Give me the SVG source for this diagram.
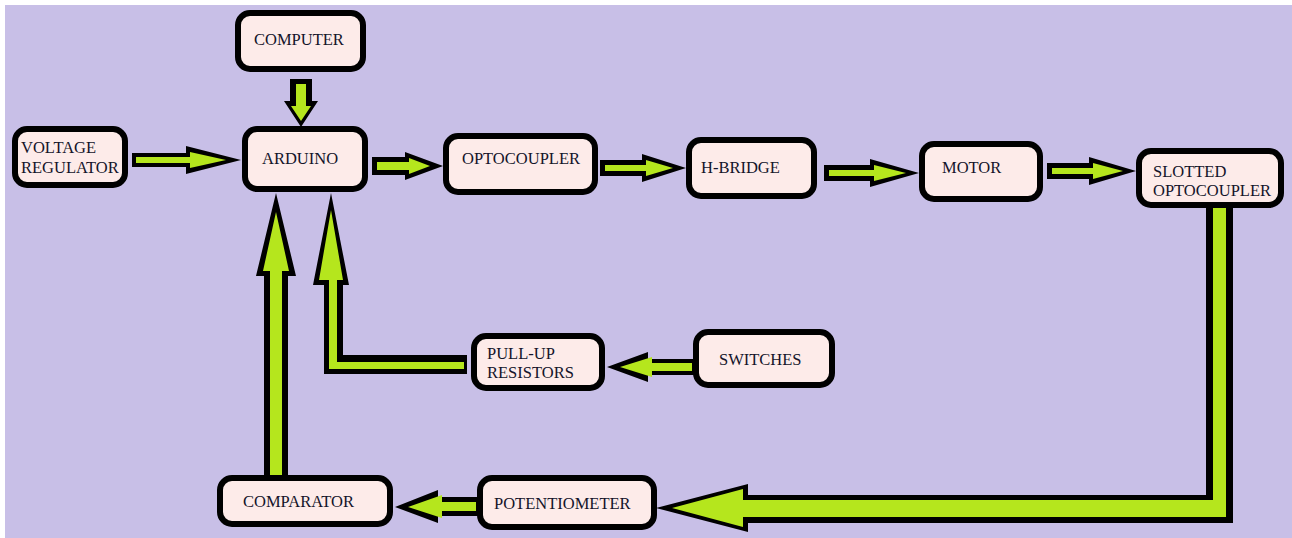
<svg xmlns="http://www.w3.org/2000/svg" width="1292" height="538" viewBox="0 0 1292 538">
<style>
.bg{fill:#C8BFE7}
.box{fill:#FDEBE9;stroke:#000;stroke-width:6}
.ob{fill:#000}
.ig{fill:#B5E61D}
text{font-family:"Liberation Serif","Times New Roman",serif;font-size:16.5px;fill:#14142a}
</style>
<rect width="1292" height="538" fill="#fff"/>
<rect class="bg" x="5" y="5" width="1287" height="533"/>
<g id="connectors">
  <g id="vr-ard"><polygon class="ob" points="132,153 186,153 186,146 241,160 186,174 186,167 132,167"/><polygon class="ig" points="136,157 190,157 190,152 226,160 190,168 190,163 136,163"/></g>
  <g id="ard-opto"><polygon class="ob" points="372,157 405,157 405,152 443,166 405,180 405,175 372,175"/><polygon class="ig" points="377,162 409,162 409,158 430,166 409,174 409,170 377,170"/></g>
  <g id="opto-h"><polygon class="ob" points="600,160 642,160 642,154 686,168 642,182 642,176 600,176"/><polygon class="ig" points="605,165 646,165 646,160 673,168 646,176 646,171 605,171"/></g>
  <g id="h-motor"><polygon class="ob" points="824,165 870,165 870,159 919,173 870,187 870,181 824,181"/><polygon class="ig" points="829,170 874,170 874,165 906,173 874,181 874,176 829,176"/></g>
  <g id="motor-slot"><polygon class="ob" points="1047,163 1089,163 1089,157 1136,171 1089,185 1089,179 1047,179"/><polygon class="ig" points="1052,168 1093,168 1093,163 1123,171 1093,179 1093,174 1052,174"/></g>
  <g id="comp-ard"><polygon class="ob" points="290,79 312,79 312,101 318,101 301,127 284,101 290,101"/><polygon class="ig" points="296,84 306,84 306,106 311,106 301,121 291,106 296,106"/></g>
  <g id="cmp-ard"><polygon class="ob" points="264,477 288,477 288,276 296,276 276,193 256,276 264,276"/><polygon class="ig" points="270,477 282,477 282,271 289,271 276,212 263,271 270,271"/></g>
  <g id="pull-ard"><polygon class="ob" points="331,193 349,285 343,285 343,355 467,355 467,374 324,374 324,285 313,285"/><polygon class="ig" points="331,210 343,280 337,280 337,362 464,362 464,369 329,369 329,280 319,280"/></g>
  <g id="sw-pull"><polygon class="ob" points="607,367 648,352 648,359 694,359 694,375 648,375 648,382"/><polygon class="ig" points="620,367 652,357 652,363 692,363 692,371 652,371 652,377"/></g>
  <g id="pot-cmp"><polygon class="ob" points="395,507 438,490 438,497 478,497 478,516 438,516 438,523"/><polygon class="ig" points="408,507 442,495 442,502 476,502 476,511 442,511 442,518"/></g>
  <g id="slot-pot"><polygon class="ob" points="656,508 748,484 748,495 1206,495 1206,206 1233,206 1233,523 748,523 748,532"/><polygon class="ig" points="672,508 743,489 743,500 1213,500 1213,206 1226,206 1226,517 743,517 743,527"/></g>
</g>
<g id="computer"><rect class="box" x="238" y="13" width="125" height="56" rx="12"/><text x="254" y="45">COMPUTER</text></g>
<g id="voltage-regulator"><rect class="box" x="15" y="129" width="110" height="56" rx="12"/><text x="21" y="153">VOLTAGE</text><text x="21" y="173">REGULATOR</text></g>
<g id="arduino"><rect class="box" x="245" y="129" width="120" height="60" rx="12"/><text x="262" y="164">ARDUINO</text></g>
<g id="optocoupler"><rect class="box" x="446" y="136" width="149" height="56" rx="12"/><text x="462" y="164">OPTOCOUPLER</text></g>
<g id="h-bridge"><rect class="box" x="689" y="140" width="125" height="56" rx="12"/><text x="701" y="173">H-BRIDGE</text></g>
<g id="motor"><rect class="box" x="922" y="144" width="118" height="55" rx="12"/><text x="942" y="173">MOTOR</text></g>
<g id="slotted-optocoupler"><rect class="box" x="1139" y="151" width="142" height="54" rx="12"/><text x="1153" y="177">SLOTTED</text><text x="1153" y="196">OPTOCOUPLER</text></g>
<g id="pull-up-resistors"><rect class="box" x="474" y="336" width="128" height="52" rx="12"/><text x="487" y="359">PULL-UP</text><text x="487" y="378">RESISTORS</text></g>
<g id="switches"><rect class="box" x="696" y="332" width="136" height="53" rx="12"/><text x="719" y="365">SWITCHES</text></g>
<g id="comparator"><rect class="box" x="220" y="478" width="170" height="46" rx="12"/><text x="243" y="507">COMPARATOR</text></g>
<g id="potentiometer"><rect class="box" x="480" y="478" width="174" height="49" rx="12"/><text x="494" y="509">POTENTIOMETER</text></g>
</svg>
